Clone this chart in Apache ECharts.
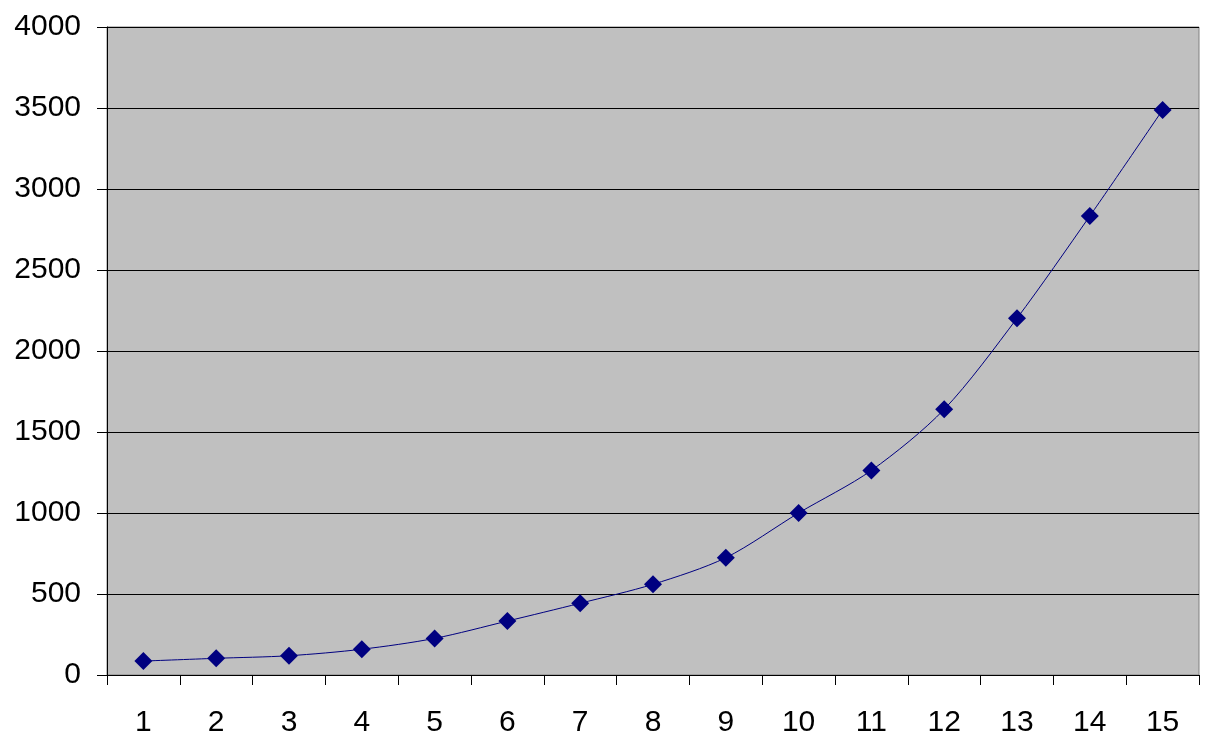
<!DOCTYPE html>
<html>
<head>
<meta charset="utf-8">
<script src="https://cdn.jsdelivr.net/npm/echarts@6/dist/echarts.min.js"></script>
<style>html,body{margin:0;padding:0;background:#fff}#c{width:1218px;height:750px}</style>
</head>
<body>
<div id="c"></div>
<script>
const categories = ['1','2','3','4','5','6','7','8','9','10','11','12','13','14','15'];
const values = [86, 103, 119, 159, 226, 333, 443, 560, 724, 1000, 1263, 1640, 2202, 2833, 3488];
const yTicks = [0, 500, 1000, 1500, 2000, 2500, 3000, 3500, 4000];

const chart = echarts.init(document.getElementById('c'), null, {renderer: 'canvas'});
chart.setOption({
  animation: false,
  backgroundColor: '#ffffff',
  grid: {
    left: 107, right: 19, top: 27, bottom: 75,
    show: true, backgroundColor: '#c0c0c0', borderColor: '#808080', borderWidth: 1
  },
  xAxis: {
    type: 'category',
    data: categories,
    boundaryGap: true,
    axisLine: {show: true, lineStyle: {color: '#000', width: 1}},
    axisTick: {show: true, length: 10, lineStyle: {color: '#000'}, alignWithLabel: false},
    axisLabel: {color: '#000', fontFamily: 'Liberation Sans, Arial', fontSize: 30, margin: 33},
    splitLine: {show: false}
  },
  yAxis: {
    type: 'value',
    min: yTicks[0], max: yTicks[yTicks.length - 1], interval: 500,
    axisLine: {show: true, lineStyle: {color: '#000', width: 1}},
    axisTick: {show: true, length: 10, lineStyle: {color: '#000'}},
    axisLabel: {color: '#000', fontFamily: 'Liberation Sans, Arial', fontSize: 30, margin: 26,
      formatter: function (v) { return String(v); }},
    splitLine: {show: true, lineStyle: {color: '#000', width: 1}}
  },
  series: [{
    type: 'line',
    data: values,
    smooth: 0.3,
    symbol: 'diamond',
    symbolSize: 18,
    lineStyle: {color: '#000080', width: 1},
    itemStyle: {color: '#000080'}
  }]
});
</script>
</body>
</html>
